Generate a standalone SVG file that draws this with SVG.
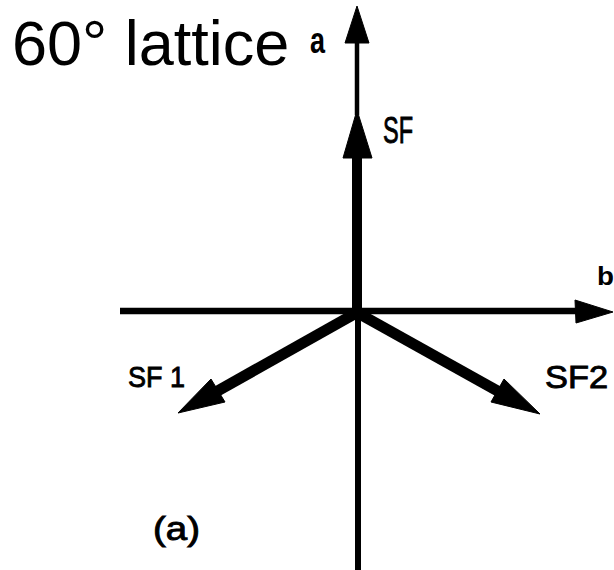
<svg xmlns="http://www.w3.org/2000/svg" width="614" height="570" viewBox="0 0 614 570">
<style>
.ax{stroke:#000;fill:none;stroke-linecap:butt}
.hd{fill:#000;stroke:#000;stroke-width:1;stroke-linejoin:round}
.lbl{font-family:"Liberation Sans",Arial,sans-serif;fill:#000}
.s{stroke:#000;stroke-width:0.9}
.b{font-weight:bold}
</style>
<rect width="614" height="570" fill="#fff"/>
<g id="connectors">
  <line class="ax" x1="357" y1="40" x2="357" y2="115" stroke-width="4.5"/>
  <polygon class="hd" points="357,6 369,43 345,43"/>
  <line class="ax" x1="357" y1="155" x2="357" y2="316" stroke-width="10"/>
  <polygon class="hd" points="357,110 372,158 343,158"/>
  <line class="ax" x1="358" y1="310" x2="358" y2="570" stroke-width="6"/>
  <line class="ax" x1="120" y1="311" x2="580" y2="311" stroke-width="6.5"/>
  <polygon class="hd" points="613,312 575,300 576,323"/>
  <line class="ax" x1="358" y1="312" x2="214" y2="393" stroke-width="11"/>
  <polygon class="hd" points="178,413 211,379 225,402"/>
  <line class="ax" x1="356" y1="312" x2="503" y2="394" stroke-width="11"/>
  <polygon class="hd" points="540,414 504,379 491,402"/>
</g>
<g id="title"><text class="lbl" x="12" y="65" font-size="63">60° lattice</text></g>
<g id="label-a"><text class="lbl b" x="310" y="53" font-size="27" textLength="15" lengthAdjust="spacingAndGlyphs" transform="translate(0,-21) scale(1,1.4)">a</text></g>
<g id="label-SF"><text class="lbl s" x="383" y="143" font-size="36" textLength="30" lengthAdjust="spacingAndGlyphs">SF</text></g>
<g id="label-b"><text class="lbl b" x="597" y="285" font-size="26" textLength="17" lengthAdjust="spacingAndGlyphs">b</text></g>
<g id="label-SF1"><text class="lbl s" x="128" y="387" font-size="30" textLength="57" lengthAdjust="spacingAndGlyphs">SF 1</text></g>
<g id="label-SF2"><text class="lbl s" x="545" y="388" font-size="31" textLength="63" lengthAdjust="spacingAndGlyphs">SF2</text></g>
<g id="label-paren-a"><text class="lbl s" x="153" y="540" font-size="33" textLength="47" lengthAdjust="spacingAndGlyphs">(a)</text></g>
</svg>
